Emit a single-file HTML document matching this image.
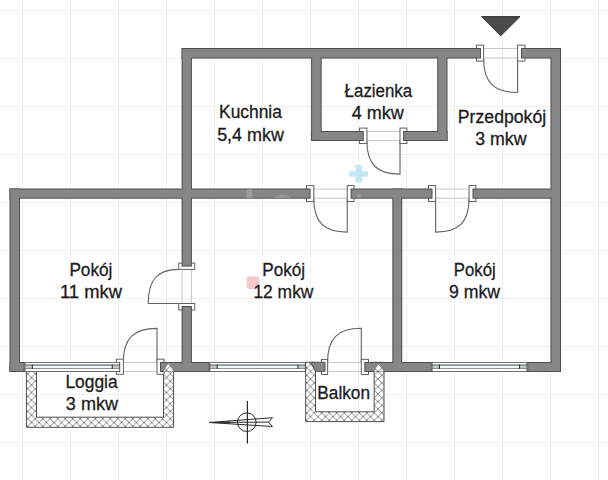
<!DOCTYPE html>
<html><head><meta charset="utf-8"><style>
html,body{margin:0;padding:0;background:#fff;width:608px;height:480px;overflow:hidden}
svg{display:block}
text{font-family:"Liberation Sans",sans-serif;font-size:19px;fill:#1b1b1b;stroke:#1b1b1b;stroke-width:0.3px}
</style></head><body>
<svg width="608" height="480" viewBox="0 0 608 480">
<rect width="608" height="480" fill="#fff"/>
<rect x="17" y="0" width="1" height="480" fill="#fbfbfb"/>
<rect x="19" y="0" width="1" height="480" fill="#fbfbfb"/>
<rect x="65" y="0" width="1" height="480" fill="#fbfbfb"/>
<rect x="67" y="0" width="1" height="480" fill="#fbfbfb"/>
<rect x="113" y="0" width="1" height="480" fill="#fbfbfb"/>
<rect x="115" y="0" width="1" height="480" fill="#fbfbfb"/>
<rect x="161" y="0" width="1" height="480" fill="#fbfbfb"/>
<rect x="163" y="0" width="1" height="480" fill="#fbfbfb"/>
<rect x="209" y="0" width="1" height="480" fill="#fbfbfb"/>
<rect x="211" y="0" width="1" height="480" fill="#fbfbfb"/>
<rect x="257" y="0" width="1" height="480" fill="#fbfbfb"/>
<rect x="259" y="0" width="1" height="480" fill="#fbfbfb"/>
<rect x="305" y="0" width="1" height="480" fill="#fbfbfb"/>
<rect x="307" y="0" width="1" height="480" fill="#fbfbfb"/>
<rect x="353" y="0" width="1" height="480" fill="#fbfbfb"/>
<rect x="355" y="0" width="1" height="480" fill="#fbfbfb"/>
<rect x="401" y="0" width="1" height="480" fill="#fbfbfb"/>
<rect x="403" y="0" width="1" height="480" fill="#fbfbfb"/>
<rect x="449" y="0" width="1" height="480" fill="#fbfbfb"/>
<rect x="451" y="0" width="1" height="480" fill="#fbfbfb"/>
<rect x="497" y="0" width="1" height="480" fill="#fbfbfb"/>
<rect x="499" y="0" width="1" height="480" fill="#fbfbfb"/>
<rect x="545" y="0" width="1" height="480" fill="#fbfbfb"/>
<rect x="547" y="0" width="1" height="480" fill="#fbfbfb"/>
<rect x="593" y="0" width="1" height="480" fill="#fbfbfb"/>
<rect x="595" y="0" width="1" height="480" fill="#fbfbfb"/>
<rect x="0" y="13" width="608" height="1" fill="#fbfbfb"/>
<rect x="0" y="61" width="608" height="1" fill="#fbfbfb"/>
<rect x="0" y="109" width="608" height="1" fill="#fbfbfb"/>
<rect x="0" y="157" width="608" height="1" fill="#fbfbfb"/>
<rect x="0" y="205" width="608" height="1" fill="#fbfbfb"/>
<rect x="0" y="253" width="608" height="1" fill="#fbfbfb"/>
<rect x="0" y="301" width="608" height="1" fill="#fbfbfb"/>
<rect x="0" y="349" width="608" height="1" fill="#fbfbfb"/>
<rect x="0" y="397" width="608" height="1" fill="#fbfbfb"/>
<rect x="0" y="445" width="608" height="1" fill="#fbfbfb"/>
<rect x="22" y="0" width="1" height="480" fill="#f0f0f0"/>
<rect x="70" y="0" width="1" height="480" fill="#f0f0f0"/>
<rect x="118" y="0" width="1" height="480" fill="#f0f0f0"/>
<rect x="166" y="0" width="1" height="480" fill="#f0f0f0"/>
<rect x="214" y="0" width="1" height="480" fill="#f0f0f0"/>
<rect x="262" y="0" width="1" height="480" fill="#f0f0f0"/>
<rect x="310" y="0" width="1" height="480" fill="#f0f0f0"/>
<rect x="358" y="0" width="1" height="480" fill="#f0f0f0"/>
<rect x="406" y="0" width="1" height="480" fill="#f0f0f0"/>
<rect x="454" y="0" width="1" height="480" fill="#f0f0f0"/>
<rect x="502" y="0" width="1" height="480" fill="#f0f0f0"/>
<rect x="550" y="0" width="1" height="480" fill="#f0f0f0"/>
<rect x="598" y="0" width="1" height="480" fill="#f0f0f0"/>
<rect x="0" y="10" width="608" height="1" fill="#f0f0f0"/>
<rect x="0" y="58" width="608" height="1" fill="#f0f0f0"/>
<rect x="0" y="106" width="608" height="1" fill="#f0f0f0"/>
<rect x="0" y="154" width="608" height="1" fill="#f0f0f0"/>
<rect x="0" y="202" width="608" height="1" fill="#f0f0f0"/>
<rect x="0" y="250" width="608" height="1" fill="#f0f0f0"/>
<rect x="0" y="298" width="608" height="1" fill="#f0f0f0"/>
<rect x="0" y="346" width="608" height="1" fill="#f0f0f0"/>
<rect x="0" y="394" width="608" height="1" fill="#f0f0f0"/>
<rect x="0" y="442" width="608" height="1" fill="#f0f0f0"/>
<defs>
<pattern id="hatch" patternUnits="userSpaceOnUse" x="27.75" y="418.75" width="7.5" height="7.5">
<rect width="7.5" height="7.5" fill="#fff"/>
<path d="M-1,-1 L8.5,8.5 M8.5,-1 L-1,8.5" stroke="#7a7a7a" stroke-width="0.9" fill="none"/>
</pattern>
<pattern id="hatch2" patternUnits="userSpaceOnUse" x="306.75" y="412.85" width="7.5" height="7.5">
<rect width="7.5" height="7.5" fill="#fff"/>
<path d="M-1,-1 L8.5,8.5 M8.5,-1 L-1,8.5" stroke="#7a7a7a" stroke-width="0.9" fill="none"/>
</pattern>
</defs>
<path d="M26.4,371.2 L26.4,427.3 L173.6,427.3 L173.6,371.2 L163.5,371.2 L163.5,417.2 L36.5,417.2 L36.5,371.2 Z" fill="url(#hatch)" stroke="#4f4f4f" stroke-width="1"/>
<path d="M305.7,362.3 L305.7,421.6 L384.0,421.6 L384.0,362.3 L374.2,362.3 L374.2,411.8 L315.5,411.8 L315.5,362.3 Z" fill="url(#hatch2)" stroke="#4f4f4f" stroke-width="1"/>
<line x1="483.6" y1="48.5" x2="517.6" y2="48.5" stroke="#c8c8c8" stroke-width="1"/>
<line x1="483.6" y1="58.0" x2="517.6" y2="58.0" stroke="#c8c8c8" stroke-width="1"/>
<line x1="483.6" y1="48.5" x2="483.6" y2="58.0" stroke="#c8c8c8" stroke-width="1"/>
<path d="M483.6,58.5 C483.60,82.30 493.80,92.50 517.6,92.5 L517.6,58.5" fill="none" stroke="#626262" stroke-width="1.1"/>
<rect x="476.50" y="45.20" width="7.10" height="15.90" fill="#fff" stroke="#626262" stroke-width="1"/>
<rect x="517.60" y="45.20" width="7.40" height="15.90" fill="#fff" stroke="#626262" stroke-width="1"/>
<line x1="366.9" y1="131.5" x2="400" y2="131.5" stroke="#c8c8c8" stroke-width="1"/>
<line x1="366.9" y1="140.5" x2="400" y2="140.5" stroke="#c8c8c8" stroke-width="1"/>
<line x1="366.9" y1="131.5" x2="366.9" y2="140.5" stroke="#c8c8c8" stroke-width="1"/>
<path d="M366.9,141 C366.90,164.17 376.83,174.10 400,174.1 L400,141" fill="none" stroke="#626262" stroke-width="1.1"/>
<rect x="359.40" y="128.10" width="7.50" height="15.40" fill="#fff" stroke="#626262" stroke-width="1"/>
<rect x="400.00" y="128.10" width="6.90" height="15.40" fill="#fff" stroke="#626262" stroke-width="1"/>
<line x1="313.75" y1="189.0" x2="347.25" y2="189.0" stroke="#c8c8c8" stroke-width="1"/>
<line x1="313.75" y1="198.2" x2="347.25" y2="198.2" stroke="#c8c8c8" stroke-width="1"/>
<line x1="313.75" y1="189.0" x2="313.75" y2="198.2" stroke="#c8c8c8" stroke-width="1"/>
<path d="M313.75,198.6 C313.75,222.05 323.80,232.10 347.25,232.1 L347.25,198.6" fill="none" stroke="#626262" stroke-width="1.1"/>
<rect x="306.50" y="185.60" width="7.25" height="15.90" fill="#fff" stroke="#626262" stroke-width="1"/>
<rect x="347.25" y="185.60" width="6.75" height="15.90" fill="#fff" stroke="#626262" stroke-width="1"/>
<line x1="435.6" y1="189.0" x2="469.1" y2="189.0" stroke="#c8c8c8" stroke-width="1"/>
<line x1="435.6" y1="198.2" x2="469.1" y2="198.2" stroke="#c8c8c8" stroke-width="1"/>
<line x1="435.6" y1="189.0" x2="435.6" y2="198.2" stroke="#c8c8c8" stroke-width="1"/>
<path d="M469.1,198.6 C469.10,222.05 459.05,232.10 435.6,232.1 L435.6,198.6" fill="none" stroke="#626262" stroke-width="1.1"/>
<rect x="428.50" y="185.60" width="7.10" height="15.90" fill="#fff" stroke="#626262" stroke-width="1"/>
<rect x="469.10" y="185.60" width="6.80" height="15.90" fill="#fff" stroke="#626262" stroke-width="1"/>
<line x1="182.1" y1="269.4" x2="182.1" y2="303.5" stroke="#c8c8c8" stroke-width="1"/>
<line x1="191.4" y1="269.4" x2="191.4" y2="303.5" stroke="#c8c8c8" stroke-width="1"/>
<path d="M178.75,269.4 C157.40,269.40 148.25,279.63 148.25,303.5 L178.75,303.5" fill="none" stroke="#626262" stroke-width="1.1"/>
<rect x="178.75" y="263.10" width="16.00" height="6.30" fill="#fff" stroke="#626262" stroke-width="1"/>
<rect x="178.75" y="303.50" width="16.00" height="6.50" fill="#fff" stroke="#626262" stroke-width="1"/>
<line x1="123.4" y1="362.5" x2="157" y2="362.5" stroke="#c8c8c8" stroke-width="1"/>
<line x1="123.4" y1="371.5" x2="157" y2="371.5" stroke="#c8c8c8" stroke-width="1"/>
<line x1="123.4" y1="362.5" x2="123.4" y2="371.5" stroke="#c8c8c8" stroke-width="1"/>
<path d="M123.4,362 C123.40,338.48 133.48,328.40 157,328.4 L157,362" fill="none" stroke="#626262" stroke-width="1.1"/>
<rect x="116.30" y="359.20" width="7.10" height="15.10" fill="#fff" stroke="#626262" stroke-width="1"/>
<rect x="157.00" y="359.20" width="7.00" height="15.10" fill="#fff" stroke="#626262" stroke-width="1"/>
<line x1="327.6" y1="362.5" x2="361.3" y2="362.5" stroke="#c8c8c8" stroke-width="1"/>
<line x1="327.6" y1="371.5" x2="361.3" y2="371.5" stroke="#c8c8c8" stroke-width="1"/>
<line x1="327.6" y1="362.5" x2="327.6" y2="371.5" stroke="#c8c8c8" stroke-width="1"/>
<path d="M327.6,362 C327.60,338.41 337.71,328.30 361.3,328.3 L361.3,362" fill="none" stroke="#626262" stroke-width="1.1"/>
<rect x="321.40" y="359.40" width="6.20" height="15.10" fill="#fff" stroke="#626262" stroke-width="1"/>
<rect x="361.30" y="359.40" width="7.20" height="15.10" fill="#fff" stroke="#626262" stroke-width="1"/>
<rect x="181.60" y="48.00" width="299.40" height="10.50" fill="#4f4f4f" />
<rect x="521.00" y="48.00" width="40.00" height="10.50" fill="#4f4f4f" />
<rect x="181.60" y="48.00" width="10.30" height="218.60" fill="#4f4f4f" />
<rect x="181.60" y="306.00" width="10.30" height="66.00" fill="#4f4f4f" />
<rect x="311.10" y="48.00" width="10.60" height="93.00" fill="#4f4f4f" />
<rect x="437.20" y="48.00" width="10.30" height="93.00" fill="#4f4f4f" />
<rect x="311.10" y="131.00" width="52.65" height="10.00" fill="#4f4f4f" />
<rect x="403.10" y="131.00" width="44.40" height="10.00" fill="#4f4f4f" />
<rect x="9.50" y="188.50" width="301.10" height="10.20" fill="#4f4f4f" />
<rect x="350.60" y="188.50" width="81.90" height="10.20" fill="#4f4f4f" />
<rect x="472.50" y="188.50" width="88.50" height="10.20" fill="#4f4f4f" />
<rect x="9.50" y="188.50" width="10.50" height="183.50" fill="#4f4f4f" />
<rect x="9.50" y="362.00" width="15.20" height="10.00" fill="#4f4f4f" />
<rect x="160.00" y="362.00" width="49.60" height="10.00" fill="#4f4f4f" />
<rect x="550.50" y="48.00" width="10.50" height="324.00" fill="#4f4f4f" />
<rect x="392.30" y="188.50" width="9.90" height="183.50" fill="#4f4f4f" />
<rect x="364.30" y="362.00" width="67.50" height="10.00" fill="#4f4f4f" />
<rect x="527.20" y="362.00" width="33.80" height="10.00" fill="#4f4f4f" />
<rect x="182.60" y="49.00" width="297.40" height="8.50" fill="#868686" />
<rect x="522.00" y="49.00" width="38.00" height="8.50" fill="#868686" />
<rect x="182.60" y="49.00" width="8.30" height="216.60" fill="#868686" />
<rect x="182.60" y="307.00" width="8.30" height="64.00" fill="#868686" />
<rect x="312.10" y="49.00" width="8.60" height="91.00" fill="#868686" />
<rect x="438.20" y="49.00" width="8.30" height="91.00" fill="#868686" />
<rect x="312.10" y="132.00" width="50.65" height="8.00" fill="#868686" />
<rect x="404.10" y="132.00" width="42.40" height="8.00" fill="#868686" />
<rect x="10.50" y="189.50" width="299.10" height="8.20" fill="#868686" />
<rect x="351.60" y="189.50" width="79.90" height="8.20" fill="#868686" />
<rect x="473.50" y="189.50" width="86.50" height="8.20" fill="#868686" />
<rect x="10.50" y="189.50" width="8.50" height="181.50" fill="#868686" />
<rect x="10.50" y="363.00" width="13.20" height="8.00" fill="#868686" />
<rect x="161.00" y="363.00" width="47.60" height="8.00" fill="#868686" />
<rect x="551.50" y="49.00" width="8.50" height="322.00" fill="#868686" />
<rect x="393.30" y="189.50" width="7.90" height="181.50" fill="#868686" />
<rect x="365.30" y="363.00" width="65.50" height="8.00" fill="#868686" />
<rect x="528.20" y="363.00" width="31.80" height="8.00" fill="#868686" />
<path d="M310.7,362.3 L325,362.3 L325,371.3 L315.4,371.3 Z" fill="#868686" stroke="#4f4f4f" stroke-width="1"/>
<path d="M163.6,371.6 L168.6,363.2 L173.6,371.6 Z" fill="url(#hatch)"/>
<path d="M374.2,371.6 L378.8,363.6 L383.6,371.6 Z" fill="url(#hatch2)"/>
<rect x="24.70" y="362.00" width="95.20" height="10.00" fill="#ffffff" />
<rect x="24.70" y="362.00" width="95.20" height="1.00" fill="#727272" />
<rect x="24.70" y="364.00" width="95.20" height="1.00" fill="#a3afaf" />
<rect x="24.70" y="365.00" width="95.20" height="1.00" fill="#8c9999" />
<rect x="24.70" y="366.00" width="95.20" height="2.00" fill="#f1fafa" />
<rect x="24.70" y="368.00" width="95.20" height="1.00" fill="#8d9393" />
<rect x="24.70" y="371.00" width="95.20" height="1.00" fill="#6c6c6c" />
<rect x="24.70" y="366.00" width="7.60" height="2.00" fill="#c8c8c8" />
<rect x="31.80" y="364.50" width="1.10" height="4.50" fill="#333" />
<rect x="112.30" y="366.00" width="7.60" height="2.00" fill="#c8c8c8" />
<rect x="111.70" y="364.50" width="1.10" height="4.50" fill="#333" />
<rect x="24.40" y="362.00" width="1.00" height="10.00" fill="#4a4a4a" />
<rect x="119.20" y="362.00" width="1.00" height="10.00" fill="#4a4a4a" />
<rect x="209.60" y="362.00" width="96.00" height="10.00" fill="#ffffff" />
<rect x="209.60" y="362.00" width="96.00" height="1.00" fill="#727272" />
<rect x="209.60" y="364.00" width="96.00" height="1.00" fill="#a3afaf" />
<rect x="209.60" y="365.00" width="96.00" height="1.00" fill="#8c9999" />
<rect x="209.60" y="366.00" width="96.00" height="2.00" fill="#f1fafa" />
<rect x="209.60" y="368.00" width="96.00" height="1.00" fill="#8d9393" />
<rect x="209.60" y="371.00" width="96.00" height="1.00" fill="#6c6c6c" />
<rect x="209.60" y="366.00" width="7.60" height="2.00" fill="#c8c8c8" />
<rect x="216.70" y="364.50" width="1.10" height="4.50" fill="#333" />
<rect x="298.00" y="366.00" width="7.60" height="2.00" fill="#c8c8c8" />
<rect x="297.40" y="364.50" width="1.10" height="4.50" fill="#333" />
<rect x="209.30" y="362.00" width="1.00" height="10.00" fill="#4a4a4a" />
<rect x="304.90" y="362.00" width="1.00" height="10.00" fill="#4a4a4a" />
<rect x="431.80" y="362.00" width="95.40" height="10.00" fill="#ffffff" />
<rect x="431.80" y="362.00" width="95.40" height="1.00" fill="#727272" />
<rect x="431.80" y="364.00" width="95.40" height="1.00" fill="#a3afaf" />
<rect x="431.80" y="365.00" width="95.40" height="1.00" fill="#8c9999" />
<rect x="431.80" y="366.00" width="95.40" height="2.00" fill="#f1fafa" />
<rect x="431.80" y="368.00" width="95.40" height="1.00" fill="#8d9393" />
<rect x="431.80" y="371.00" width="95.40" height="1.00" fill="#6c6c6c" />
<rect x="431.80" y="366.00" width="7.60" height="2.00" fill="#c8c8c8" />
<rect x="438.90" y="364.50" width="1.10" height="4.50" fill="#333" />
<rect x="519.60" y="366.00" width="7.60" height="2.00" fill="#c8c8c8" />
<rect x="519.00" y="364.50" width="1.10" height="4.50" fill="#333" />
<rect x="431.50" y="362.00" width="1.00" height="10.00" fill="#4a4a4a" />
<rect x="526.50" y="362.00" width="1.00" height="10.00" fill="#4a4a4a" />
<path d="M481.5,16.6 L520,16.6 L500.7,35.8 Z" fill="#4b4b4b" stroke="#333" stroke-width="1" stroke-linejoin="miter"/>
<g stroke="#2a2a2a" fill="none"><line x1="247.4" y1="401" x2="247.4" y2="443.4" stroke-width="1.2"/><circle cx="246.8" cy="422.2" r="9.3" stroke-width="1"/><path d="M209,422.5 L272.5,417.7 L268.5,422.1 L272.5,426.5 Z" stroke-width="1"/><path d="M209,422.5 L268.5,422.1" stroke-width="1"/></g>
<path d="M209,422.5 L230,421.2 L230,423.6 Z" fill="#333"/>
<rect x="246.6" y="189.5" width="5.6" height="8.4" fill="#9c9c9c"/>
<path d="M273.5,197.7 Q282.2,191.8 291,197.7 Z" fill="#979797"/>
<circle cx="358.8" cy="195.6" r="2.2" fill="#999"/>
<g fill="#c3e6f6"><rect x="349.4" y="171.3" width="18.7" height="5.3"/><rect x="355.6" y="165" width="6.3" height="17.5"/></g>
<rect x="246.7" y="276.5" width="12.5" height="12.5" rx="2" fill="#f5c9cc"/>
<text transform="translate(250.49,118.10) scale(0.915,1)" text-anchor="middle">Kuchnia</text>
<text transform="translate(250.51,140.50) scale(0.944,1)" text-anchor="middle">5,4 mkw</text>
<text transform="translate(378.40,96.60) scale(0.889,1)" text-anchor="middle">Łazienka</text>
<text transform="translate(377.75,119.40) scale(0.952,1)" text-anchor="middle">4 mkw</text>
<text transform="translate(502.00,123.00) scale(0.930,1)" text-anchor="middle">Przedpokój</text>
<text transform="translate(500.86,144.70) scale(0.937,1)" text-anchor="middle">3 mkw</text>
<text transform="translate(90.90,275.70) scale(0.904,1)" text-anchor="middle">Pokój</text>
<text transform="translate(90.95,297.60) scale(0.968,1)" text-anchor="middle">11 mkw</text>
<text transform="translate(283.70,275.70) scale(0.900,1)" text-anchor="middle">Pokój</text>
<text transform="translate(283.42,297.60) scale(0.917,1)" text-anchor="middle">12 mkw</text>
<text transform="translate(474.76,275.70) scale(0.880,1)" text-anchor="middle">Pokój</text>
<text transform="translate(474.53,297.60) scale(0.931,1)" text-anchor="middle">9 mkw</text>
<text transform="translate(91.48,388.00) scale(0.915,1)" text-anchor="middle">Loggia</text>
<text transform="translate(91.95,410.20) scale(0.952,1)" text-anchor="middle">3 mkw</text>
<text transform="translate(343.69,399.00) scale(0.907,1)" text-anchor="middle">Balkon</text>
</svg>
</body></html>
